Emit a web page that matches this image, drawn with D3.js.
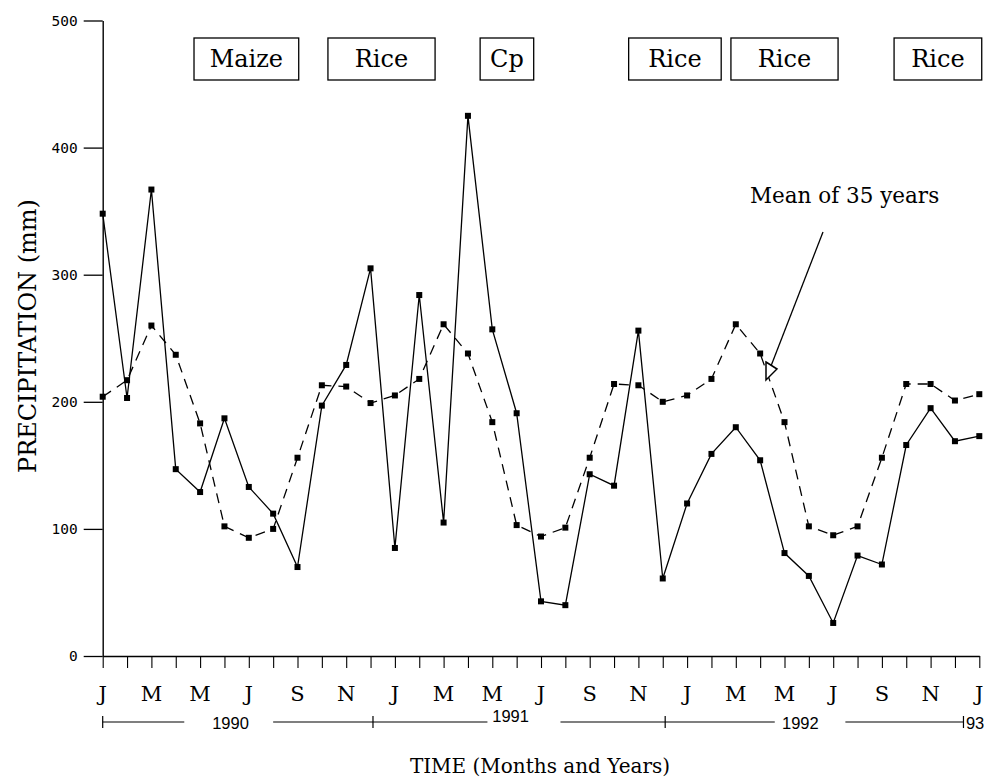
<!DOCTYPE html>
<html><head><meta charset="utf-8">
<script src="https://cdn.jsdelivr.net/npm/d3@7"></script>
<style>body{margin:0;background:#fff}</style>
</head><body><svg id="c" width="984" height="779"></svg>
<script>
// ---- data ----
const monthIndex = d3.range(37); // Jan 1990 ... Jan 1993
const observed = [348, 203, 367, 147, 129, 187, 133, 112, 70, 197, 229, 305,
                  85, 284, 105, 425, 257, 191, 43, 40, 143, 134, 256, 61,
                  120, 159, 180, 154, 81, 63, 26, 79, 72, 166, 195, 169, 173];
const mean35 = [204, 217, 260, 237, 183, 102, 93, 100, 156, 213, 212, 199,
                205, 218, 261, 238, 184, 103, 94, 101, 156, 214, 213, 200,
                205, 218, 261, 238, 184, 102, 95, 102, 156, 214, 214, 201, 206];
const tickLabels = ["J","M","M","J","S","N","J","M","M","J","S","N","J","M","M","J","S","N","J"];
const yTicks = [0, 100, 200, 300, 400, 500];
const crops = ["Maize", "Rice", "Cp", "Rice", "Rice", "Rice"];
const cropStart = [3.75, 9.25, 15.5, 21.6, 25.8, 32.5];
const cropEnd = [8.05, 13.65, 17.7, 25.4, 30.2, 36.1];
const yearLabels = ["1990", "1991", "1992", "93"];

// ---- layout ----
const svg = d3.select("#c");
const x = d3.scaleLinear().domain([0, 36]).range([102.7, 979.3]);
const y = d3.scaleLinear().domain([0, 500]).range([656, 20.5]);
const serif = "'DejaVu Serif', serif";

// y axis
const ya = svg.append("g").attr("transform", `translate(${x(0)},0)`)
  .call(d3.axisLeft(y).tickValues(yTicks).tickSize(19).tickSizeOuter(0).tickPadding(6));
ya.select(".domain").attr("stroke", "#000").attr("stroke-width", 1.4);
ya.selectAll(".tick line").attr("stroke", "#000").attr("stroke-width", 1.3);
ya.selectAll(".tick text").attr("font-family", "'DejaVu Sans Mono', monospace")
  .attr("font-size", 14.5).attr("fill", "#000");

// x axis
const xa = svg.append("g").attr("transform", `translate(0,${y(0)})`)
  .call(d3.axisBottom(x).tickValues(monthIndex).tickSize(12).tickSizeOuter(0).tickFormat(""));
xa.select(".domain").attr("stroke", "#000").attr("stroke-width", 1.4);
xa.selectAll(".tick line").attr("stroke", "#000").attr("stroke-width", 1.1);

// month labels
svg.append("g").selectAll("text").data(tickLabels).join("text")
  .attr("x", (d, i) => x(i * 2)).attr("y", 701)
  .attr("text-anchor", "middle").attr("font-family", serif).attr("font-size", 21)
  .text(d => d);

// year bar
const yb = svg.append("g").attr("stroke", "#000").attr("stroke-width", 1.2);
const yearY = 722;
[[0, 3.35], [7.0, 15.8], [18.8, 27.6], [30.5, 35.35]].forEach(s => {
  yb.append("line").attr("x1", x(s[0])).attr("x2", x(s[1])).attr("y1", yearY).attr("y2", yearY);
});
[0, 11.1, 23.1, 35.35].forEach(t => {
  yb.append("line").attr("x1", x(t)).attr("x2", x(t)).attr("y1", yearY - 6).attr("y2", yearY + 6);
});
const yearPos = [[5.25, 729], [16.75, 722], [28.65, 729], [35.45, 729]];
svg.append("g").selectAll("text").data(yearLabels).join("text")
  .attr("x", (d, i) => x(yearPos[i][0])).attr("y", (d, i) => yearPos[i][1])
  .attr("text-anchor", (d, i) => i === 3 ? "start" : "middle")
  .attr("font-family", "'Liberation Sans', Arial, sans-serif").attr("font-size", 16.5)
  .text(d => d);

// axis titles
svg.append("text").attr("x", 540).attr("y", 773).attr("text-anchor", "middle")
  .attr("font-family", serif).attr("font-size", 20).text("TIME (Months and Years)");
svg.append("text").attr("transform", "translate(36,336) rotate(-90)").attr("text-anchor", "middle")
  .attr("font-family", serif).attr("font-size", 24).text("PRECIPITATION (mm)");

// lines
const line = d3.line().x((d, i) => x(monthIndex[i])).y(d => y(d));
svg.append("path").datum(mean35).attr("d", line).attr("fill", "none")
  .attr("stroke", "#000").attr("stroke-width", 1.3).attr("stroke-dasharray", "10,7");
svg.append("path").datum(observed).attr("d", line).attr("fill", "none")
  .attr("stroke", "#000").attr("stroke-width", 1.3);

// markers
[mean35, observed].forEach(series => {
  svg.append("g").selectAll("rect").data(series).join("rect")
    .attr("x", (d, i) => x(monthIndex[i]) - 3).attr("y", d => y(d) - 3)
    .attr("width", 6).attr("height", 6).attr("fill", "#000");
});

// crop boxes
const cb = svg.append("g");
crops.forEach((c, i) => {
  const x0 = x(cropStart[i]), x1 = x(cropEnd[i]);
  cb.append("rect").attr("x", x0).attr("y", 38).attr("width", x1 - x0).attr("height", 42)
    .attr("fill", "#fff").attr("stroke", "#000").attr("stroke-width", 1.3);
  cb.append("text").attr("x", (x0 + x1) / 2).attr("y", 67).attr("text-anchor", "middle")
    .attr("font-family", serif).attr("font-size", 24).text(c);
});

// annotation
svg.append("text").attr("x", 750).attr("y", 203).attr("font-family", serif)
  .attr("font-size", 21.5).text("Mean of 35 years");
svg.append("line").attr("x1", 823).attr("y1", 232).attr("x2", 771).attr("y2", 366)
  .attr("stroke", "#000").attr("stroke-width", 1.3);
svg.append("path").attr("d", "M766,362 L777,369 L766,380 Z").attr("fill", "#fff")
  .attr("stroke", "#000").attr("stroke-width", 1.5);
</script></body></html>
